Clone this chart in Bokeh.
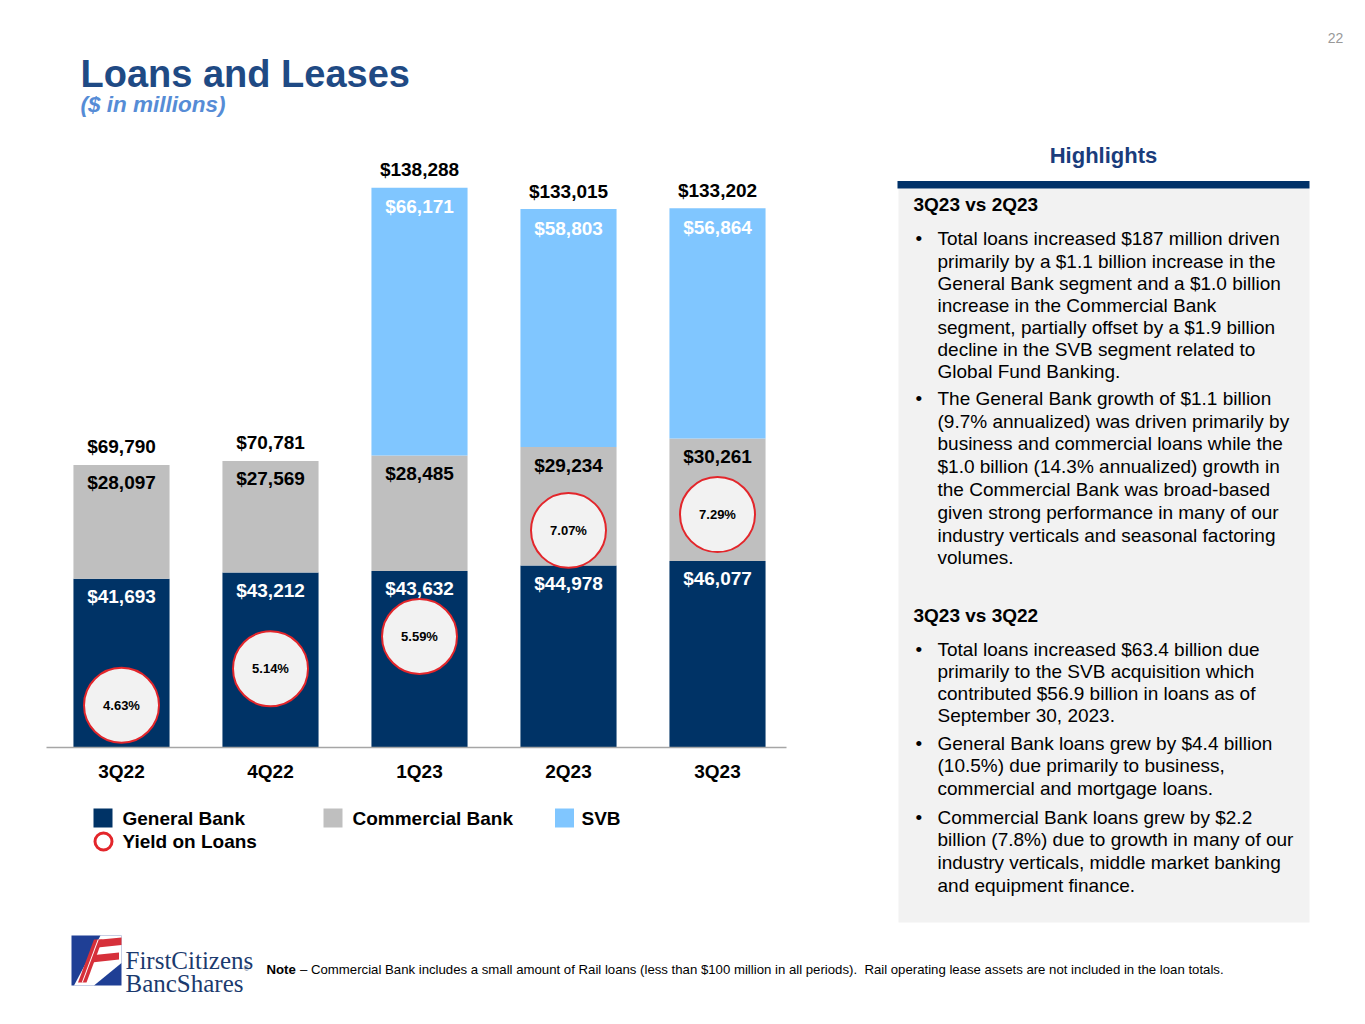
from bokeh.plotting import figure
from bokeh.models import Range1d, ColumnDataSource
from bokeh.core.properties import value
from bokeh.embed import file_html
from bokeh.resources import INLINE

# ---------------- data ----------------
quarters = ["3Q22", "4Q22", "1Q23", "2Q23", "3Q23"]
general_bank = [41693, 43212, 43632, 44978, 46077]
commercial_bank = [28097, 27569, 28485, 29234, 30261]
svb = [0, 0, 66171, 58803, 56864]
totals = [69790, 70781, 138288, 133015, 133202]
yield_on_loans = [4.63, 5.14, 5.59, 7.07, 7.29]

legend_labels = ["General Bank", "Commercial Bank", "SVB", "Yield on Loans"]

title_text = "Loans and Leases"
subtitle_text = "($ in millions)"
page_number = "22"

heading_texts = ["3Q23 vs 2Q23", "3Q23 vs 3Q22"]
body_lines = [
    "Total loans increased $187 million driven",
    "primarily by a $1.1 billion increase in the",
    "General Bank segment and a $1.0 billion",
    "increase in the Commercial Bank",
    "segment, partially offset by a $1.9 billion",
    "decline in the SVB segment related to",
    "Global Fund Banking.",
    "The General Bank growth of $1.1 billion",
    "(9.7% annualized) was driven primarily by",
    "business and commercial loans while the",
    "$1.0 billion (14.3% annualized) growth in",
    "the Commercial Bank was broad-based",
    "given strong performance in many of our",
    "industry verticals and seasonal factoring",
    "volumes.",
    "Total loans increased $63.4 billion due",
    "primarily to the SVB acquisition which",
    "contributed $56.9 billion in loans as of",
    "September 30, 2023.",
    "General Bank loans grew by $4.4 billion",
    "(10.5%) due primarily to business,",
    "commercial and mortgage loans.",
    "Commercial Bank loans grew by $2.2",
    "billion (7.8%) due to growth in many of our",
    "industry verticals, middle market banking",
    "and equipment finance.",
]
note_bold = "Note"
note_text = ("\u2013 Commercial Bank includes a small amount of Rail loans (less than $100 million "
             "in all periods).\u00a0 Rail operating lease assets are not included in the loan totals.")

# ---------------- layout (page pixels) ----------------
W, H = 1360, 1020

heading_y = [204, 615]
body_y = [238, 261, 283, 305, 327, 349, 371,
          398, 421, 443, 466, 489, 512, 535, 557,
          649, 671, 693, 715,
          743, 765, 788,
          817, 839, 862, 885]
bullet_y = [238, 398, 649, 743, 817]

FONT = value("Liberation Sans")
SERIF = value("Liberation Serif")
NAVY = "#003366"
GRAY = "#BFBFBF"
SKY = "#80C6FF"
RED = "#E3262B"

p = figure(width=W, height=H, x_range=Range1d(0, W), y_range=Range1d(H, 0),
           output_backend="svg", toolbar_location=None,
           x_axis_location=None, y_axis_location=None, min_border=0)
p.outline_line_color = None
p.grid.visible = False
p.background_fill_color = "white"

# scales for the bar chart
BAR_X0 = 121
BAR_STEP = 149.0
BASE_Y = 747
K = 0.004048  # pixels per $ million
p.extra_x_ranges = {"cat": Range1d(-BAR_X0 / BAR_STEP, (W - BAR_X0) / BAR_STEP)}
YMID, VMID, S = 610.6, 5.944, 71.7
p.extra_y_ranges = {
    "usd": Range1d(-(H - BASE_Y) / K, BASE_Y / K),
    "yld": Range1d(VMID - (H - YMID) / S, VMID + YMID / S),
}

idx = list(range(len(quarters)))
src = ColumnDataSource(dict(idx=idx, gb=general_bank, cb=commercial_bank, svb=svb))
p.vbar_stack(["gb", "cb", "svb"], x="idx", width=0.645, fill_color=[NAVY, GRAY, SKY],
             line_color=None, source=src, x_range_name="cat", y_range_name="usd")

# baseline
p.line([46, 786], [BASE_Y, BASE_Y], line_color="#A6A6A6", line_width=1.5)

def fmt(v):
    return "${:,}".format(v)

lab = dict(text_font=FONT, text_font_style="bold", text_font_size="19px",
           text_align="center", text_baseline="middle",
           x_range_name="cat", y_range_name="usd")

cb_top = [g + c for g, c in zip(general_bank, commercial_bank)]
p.text(x=idx, y=general_bank, text=[fmt(v) for v in general_bank], y_offset=18,
       text_color="white", **lab)
p.text(x=idx, y=cb_top, text=[fmt(v) for v in commercial_bank], y_offset=18,
       text_color="black", **lab)
svb_i = [i for i in idx if svb[i] > 0]
p.text(x=svb_i, y=[totals[i] for i in svb_i], text=[fmt(svb[i]) for i in svb_i], y_offset=19,
       text_color="white", **lab)
p.text(x=idx, y=totals, text=[fmt(v) for v in totals], y_offset=-18,
       text_color="black", **lab)
p.text(x=idx, y=[0] * len(idx), text=quarters, y_offset=24, text_color="black", **lab)

# yield circles
p.scatter(x=idx, y=yield_on_loans, size=75, marker="circle", fill_color="#F2F2F2",
          line_color=RED, line_width=2, x_range_name="cat", y_range_name="yld")
p.text(x=idx, y=yield_on_loans, text=["{:.2f}%".format(v) for v in yield_on_loans],
       text_font=FONT, text_font_style="bold", text_font_size="13px", text_color="black",
       text_align="center", text_baseline="middle", x_range_name="cat", y_range_name="yld")

# legend
p.rect(x=[102.5, 332.5, 564], y=[817.5] * 3, width=19, height=19,
       fill_color=[NAVY, GRAY, SKY], line_color=None)
p.scatter(x=[103], y=[841], size=17, marker="circle", fill_color="white",
          line_color=RED, line_width=3)
p.text(x=[122, 352, 581, 122], y=[818, 818, 818, 841], text=legend_labels,
       text_font=FONT, text_font_style="bold", text_font_size="19px",
       text_color="black", text_align="left", text_baseline="middle")

# title
p.text(x=[80], y=[73], text=[title_text], text_font=FONT, text_font_style="bold",
       text_font_size="38px", text_color="#1F4A84", text_baseline="alphabetic")
p.text(x=[80], y=[104], text=[subtitle_text], text_font=FONT,
       text_font_style="bold italic", text_font_size="22.5px", text_color="#568CD6",
       text_baseline="alphabetic")
p.text(x=[1335], y=[37], text=[page_number], text_font=FONT, text_font_size="14px",
       text_color="#999999", text_align="center", text_baseline="middle")

# highlights panel
p.text(x=[1103], y=[155], text=["Highlights"], text_font=FONT, text_font_style="bold",
       text_font_size="22px", text_color="#1A3C7C", text_align="center",
       text_baseline="middle")
p.quad(left=[898], right=[1309], top=[188], bottom=[922],
       fill_color="#F2F2F2", line_color=None)
p.quad(left=[897], right=[1309], top=[180.5], bottom=[188],
       fill_color="#003168", line_color=None)
p.text(x=[913] * 2, y=heading_y, text=heading_texts, text_font=FONT,
       text_font_style="bold", text_font_size="19px", text_color="black",
       text_baseline="middle")
p.text(x=[915] * len(bullet_y), y=bullet_y, text=["\u2022"] * len(bullet_y),
       text_font=FONT, text_font_size="19px", text_color="black", text_baseline="middle")
p.text(x=[937] * len(body_lines), y=body_y, text=body_lines,
       text_font=FONT, text_font_size="19px", text_color="black", text_baseline="middle")

# note
p.text(x=[266], y=[969], text=[note_bold], text_font=FONT, text_font_style="bold",
       text_font_size="13.2px", text_color="black", text_baseline="middle")
p.text(x=[299.5], y=[969], text=[note_text], text_font=FONT,
       text_font_size="13.2px", text_color="black", text_baseline="middle")

# logo
fx, fy, s = 71.0, 935.0, 50.0
def poly(pts):
    return [fx + a * s for a, b in pts], [fy + b * s for a, b in pts]
p.quad(left=[fx], right=[fx + s], top=[fy], bottom=[fy + s], fill_color="#1F3F95",
       line_color=None)
shapes = [
    ([(0.05, 1.0), (0.45, 1.0), (1.0, 0.55), (1.0, 0.0), (0.58, 0.0)], "white"),
    ([(0.13, 0.94), (0.30, 0.94), (0.62, 0.08), (0.45, 0.08)], "#D6303A"),
    ([(0.48, 0.09), (1.0, 0.04), (1.0, 0.19), (0.43, 0.25)], "#D6303A"),
    ([(0.36, 0.40), (0.95, 0.34), (0.95, 0.48), (0.31, 0.55)], "#D6303A"),
    ([(0.205, 0.94), (0.225, 0.94), (0.545, 0.08), (0.525, 0.08)], "white"),
]
for pts, col in shapes:
    xs, ys = poly(pts)
    p.patch(xs, ys, fill_color=col, line_color=None)
p.text(x=[125, 125], y=[960, 983], text=["FirstCitizens", "BancShares"],
       text_font=SERIF, text_font_size="25px", text_color="#1B3A6E",
       text_baseline="alphabetic")
p.text(x=[243], y=[968], text=["\u00ae"], text_font=SERIF, text_font_size="8px",
       text_color="#1B3A6E", text_baseline="alphabetic")

open("out.html", "w").write(file_html(p, INLINE))
